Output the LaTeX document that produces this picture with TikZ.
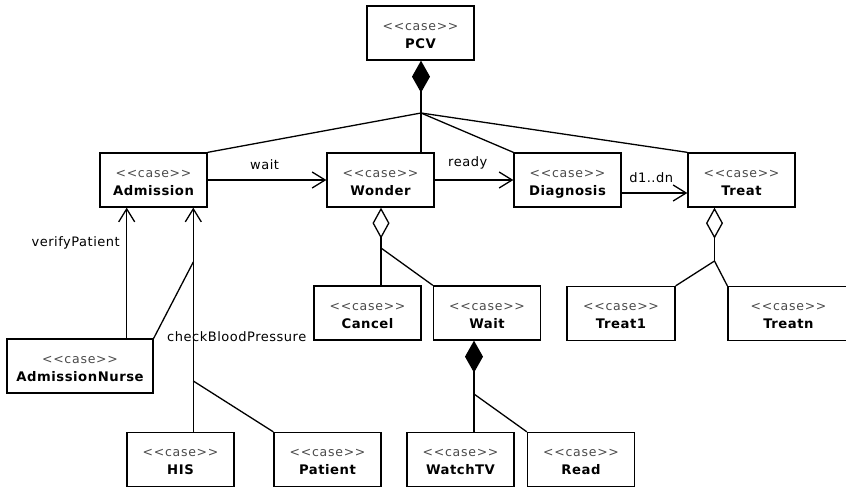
\documentclass[tikz,border=0pt]{standalone}
\usepackage{fontspec}
\usetikzlibrary{arrows.meta}
\newfontfamily\umlfont{DejaVu Sans}[LetterSpace=4]
\newfontfamily\stereofont{DejaVu Sans}[LetterSpace=6]
\definecolor{stereogray}{HTML}{4A4A4A}
% two-line use-case label; the struts give every box the same text height and depth
\newcommand{\casebox}[1]{{\stereofont\color{stereogray}\fontsize{12.5}{18}\selectfont\rule{0pt}{16pt}<<case>>}\\{\bfseries\fontsize{13.2}{18}\selectfont\rule[-3.5pt]{0pt}{3.5pt}#1}}
\begin{document}
\begin{tikzpicture}[x=1pt, y=-1pt,
  every node/.style={font=\umlfont\fontsize{13}{18}\selectfont},
  usecase/.style={draw, line width=1.3pt, minimum width=107pt, minimum height=54pt,
    inner sep=0pt, align=center},
  link/.style={line width=1.3pt},
  navig/.style={link, -{Straight Barb[length=13pt, width=16pt, line width=1.3pt]}},
  compos/.style={link, {Diamond[length=32pt, width=18pt]}-},
  aggreg/.style={link, {Diamond[open, length=31pt, width=17pt, line width=1.3pt]}-},
  lbl/.style={inner sep=1pt},
  arclbl/.style={lbl, above=9pt}]
\useasboundingbox (0,0) rectangle (846,487);

% use-case boxes
\node[usecase] (PCV)       at (420.5,33)  {\casebox{PCV}};
\node[usecase] (Admission) at (153.5,180) {\casebox{Admission}};
\node[usecase] (Wonder)    at (380.5,180) {\casebox{Wonder}};
\node[usecase] (Diagnosis) at (567.5,180) {\casebox{Diagnosis}};
\node[usecase] (Treat)     at (741.5,180) {\casebox{Treat}};
\node[usecase, minimum width=146pt] (Nurse) at (80,366) {\casebox{AdmissionNurse}};
\node[usecase] (Cancel)    at (367.5,313) {\casebox{Cancel}};
\node[usecase] (Wait)      at (487,313)   {\casebox{Wait}};
\node[usecase, minimum width=108pt] (Treat1) at (621,313.5) {\casebox{Treat1}};
\node[usecase, minimum width=121pt] (Treatn) at (788.5,313.5) {\casebox{Treatn}};
\node[usecase] (HIS)       at (180.5,459.5) {\casebox{HIS}};
\node[usecase] (Patient)   at (327.5,459.5) {\casebox{Patient}};
\node[usecase] (WatchTV)   at (460.5,459.5) {\casebox{WatchTV}};
\node[usecase] (Read)      at (581,459.5)   {\casebox{Read}};

% branching points of the whole-part trees
\coordinate (jPCV)    at (421,113);
\coordinate (jWonder) at (381,248);
\coordinate (jWait)   at (474,394);
\coordinate (jTreat)  at (714.5,261);
\coordinate (jHIS)    at (193.3,381);
\coordinate (jNurse)  at (193.3,262);
\coordinate (xVerify) at (126.7,0);

% PCV composition
\draw[compos] (PCV.south -| jPCV) -- (jPCV);
\draw[link] (jPCV) -- (Admission.north east);
\draw[link] (jPCV) -- (Wonder.north -| jPCV);
\draw[link] (jPCV) -- (Diagnosis.north west);
\draw[link] (jPCV) -- (Treat.north west);

% navigation between the main steps
\draw[navig] (Admission.east) -- node[arclbl, pos=0.48] {wait} (Wonder.west);
\draw[navig] (Wonder.east) -- node[arclbl, pos=0.42] {ready} (Diagnosis.west);
\draw[navig] ([yshift=-13pt]Diagnosis.east) -- node[arclbl, pos=0.45] {d1..dn} ([yshift=-13pt]Treat.west);

% Wonder aggregation
\draw[aggreg] (Wonder.south -| jWonder) -- (jWonder);
\draw[link] (jWonder) -- (Cancel.north -| jWonder);
\draw[link] (jWonder) -- (Wait.north west);

% Wait composition
\draw[compos] (Wait.south -| jWait) -- (jWait);
\draw[link] (jWait) -- (WatchTV.north -| jWait);
\draw[link] (jWait) -- (Read.north west);

% Treat aggregation
\draw[aggreg] (Treat.south -| jTreat) -- (jTreat);
\draw[link] (jTreat) -- (Treat1.north east);
\draw[link] (jTreat) -- (Treatn.north west);

% admission checks
\draw[navig] (Nurse.north -| xVerify) -- (Admission.south -| xVerify);
\node[lbl, anchor=east] (vp) at (121,243) {verifyPatient};
\draw[navig] (HIS.north -| jHIS) -- (Admission.south -| jHIS);
\draw[link] (jHIS) -- (Patient.north west);
\draw[link] (Nurse.north east) -- (jNurse);
\node[lbl, anchor=west] (cbp) at (166,337) {checkBloodPressure};
\end{tikzpicture}
\end{document}
